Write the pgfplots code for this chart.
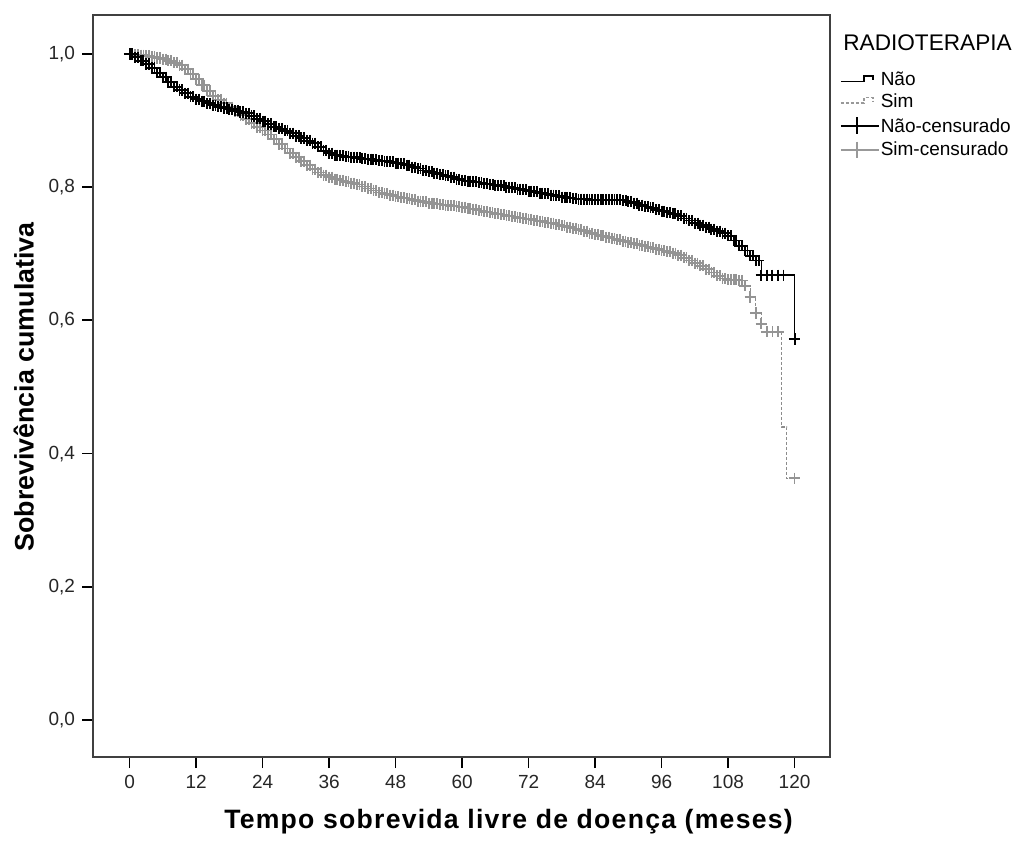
\documentclass[border=0pt]{standalone}
\usepackage{pgfplots}
\usepackage{pgfplotstable}
\pgfplotsset{compat=1.18}
\usepackage{fontspec}
\setmainfont{Liberation Sans}

\pgfplotsset{
  steplegend/.style={legend image code/.code={\draw[##1] (0pt,-0.3pt) -- (11.5pt,-0.3pt) -- (11.5pt,2.3pt) -- (16pt,2.3pt) -- (16pt,0.3pt);}},
  censlegend/.style={legend image code/.code={\draw[##1, mark=none] (0pt,0pt) -- (19pt,0pt); \draw[##1] plot coordinates {(8pt,0pt)};}},
}

% Nao (no radiotherapy): t, survival, censor-mark flag
\pgfplotstableread{
t s c
0 1.000 1
0.5 1.000 1
1 0.995 1
1.5 0.995 1
2 0.990 1
2.5 0.990 1
3 0.985 1
3.5 0.985 1
4 0.979 1
4.5 0.979 1
5 0.972 1
5.5 0.972 1
6 0.965 1
6.5 0.965 1
7 0.958 1
7.5 0.958 1
8 0.951 1
8.5 0.951 1
9 0.946 1
9.5 0.946 1
10 0.941 1
10.5 0.941 1
11 0.936 1
11.5 0.936 1
12 0.932 1
12.5 0.932 1
13 0.929 1
13.5 0.929 1
14 0.926 1
14.5 0.926 1
15 0.923 1
15.5 0.923 1
16 0.921 1
16.5 0.921 1
17 0.919 1
17.5 0.919 1
18 0.917 1
18.5 0.917 1
19 0.915 1
19.5 0.915 1
20 0.913 1
20.5 0.913 1
21 0.911 1
21.5 0.911 1
22 0.907 1
22.5 0.907 1
23 0.903 1
23.5 0.903 1
24 0.899 1
24.5 0.899 1
25 0.895 1
25.5 0.895 1
26 0.891 1
26.5 0.891 1
27 0.888 1
27.5 0.888 1
28 0.885 1
28.5 0.885 1
29 0.881 1
29.5 0.881 1
30 0.877 1
30.5 0.877 1
31 0.874 1
31.5 0.874 1
32 0.870 1
32.5 0.870 1
33 0.866 1
33.5 0.866 1
34 0.861 1
34.5 0.861 1
35 0.855 1
35.5 0.855 1
36 0.851 1
36.5 0.851 1
37 0.848 1
37.5 0.848 1
38 0.847 1
38.5 0.847 1
39 0.846 1
39.5 0.846 1
40 0.845 1
40.5 0.845 1
41 0.844 1
41.5 0.844 1
42 0.843 1
42.5 0.843 1
43 0.842 1
43.5 0.842 1
44 0.841 1
44.5 0.841 1
45 0.840 1
45.5 0.840 1
46 0.839 1
46.5 0.839 1
47 0.838 1
47.5 0.838 1
48 0.836 1
48.5 0.836 1
49 0.835 1
49.5 0.835 1
50 0.833 1
50.5 0.833 1
51 0.830 1
51.5 0.830 1
52 0.828 1
52.5 0.828 1
53 0.825 1
53.5 0.825 1
54 0.823 1
54.5 0.823 1
55 0.821 1
55.5 0.821 1
56 0.819 1
56.5 0.819 1
57 0.817 1
57.5 0.817 1
58 0.815 1
58.5 0.815 1
59 0.812 1
59.5 0.812 1
60 0.810 1
60.5 0.810 1
61 0.809 1
61.5 0.809 1
62 0.808 1
62.5 0.808 1
63 0.807 1
63.5 0.807 1
64 0.805 1
64.5 0.805 1
65 0.804 1
65.5 0.804 1
66 0.803 1
66.5 0.803 1
67 0.802 1
67.5 0.802 1
68 0.800 1
68.5 0.800 1
69 0.799 1
69.5 0.799 1
70 0.797 1
70.5 0.797 1
71 0.796 1
71.5 0.796 1
72 0.794 1
72.5 0.794 1
73 0.793 1
73.5 0.793 1
74 0.791 1
74.5 0.791 1
75 0.790 1
75.5 0.790 1
76 0.788 1
76.5 0.788 1
77 0.787 1
77.5 0.787 1
78 0.785 1
78.5 0.785 1
79 0.784 1
79.5 0.784 1
80 0.783 1
80.5 0.783 1
81 0.782 1
81.5 0.782 1
82 0.782 1
82.5 0.782 1
83 0.781 1
83.5 0.781 1
84 0.781 1
84.5 0.781 1
85 0.781 1
85.5 0.781 1
86 0.781 1
86.5 0.781 1
87 0.781 1
87.5 0.781 1
88 0.781 1
88.5 0.781 1
89 0.780 1
89.5 0.780 1
90 0.778 1
90.5 0.778 1
91 0.776 1
91.5 0.776 1
92 0.773 1
92.5 0.773 1
93 0.771 1
93.5 0.771 1
94 0.769 1
94.5 0.769 1
95 0.766 1
95.5 0.766 1
96 0.764 1
96.5 0.764 1
97 0.762 1
97.5 0.762 1
98 0.760 1
98.5 0.760 1
99 0.757 1
99.5 0.757 1
100 0.753 1
100.5 0.753 1
101 0.750 1
101.5 0.750 1
102 0.746 1
102.5 0.746 1
103 0.743 1
103.5 0.743 1
104 0.740 1
104.5 0.740 1
105 0.737 1
105.5 0.737 1
106 0.734 1
106.5 0.734 1
107 0.731 1
107.5 0.731 1
108 0.727 1
108.5 0.727 1
109 0.720 1
109.5 0.720 1
110 0.712 1
110.5 0.712 1
111 0.705 1
111.5 0.705 1
112 0.697 1
112.5 0.697 1
113 0.690 1
113.5 0.690 1
114 0.668 1
115 0.668 1
116 0.668 1
117 0.668 1
118 0.668 1
120 0.572 1
}\naotab

% Sim (radiotherapy)
\pgfplotstableread{
t s c
0 1.000 1
0.5 1.000 1
1 0.999 1
1.5 0.999 1
2 0.998 1
2.5 0.998 1
3 0.997 1
3.5 0.997 1
4 0.996 1
4.5 0.996 1
5 0.994 1
5.5 0.994 1
6 0.992 1
6.5 0.992 1
7 0.990 1
7.5 0.990 1
8 0.987 1
8.5 0.987 1
9 0.983 1
9.5 0.983 1
10 0.977 1
10.5 0.977 1
11 0.970 1
11.5 0.970 1
12 0.962 1
12.5 0.962 1
13 0.953 1
13.5 0.953 1
14 0.945 1
14.5 0.945 1
15 0.937 1
15.5 0.937 1
16 0.931 1
16.5 0.931 1
17 0.926 1
17.5 0.926 1
18 0.920 1
18.5 0.920 1
19 0.914 1
19.5 0.914 1
20 0.908 1
20.5 0.908 1
21 0.902 1
21.5 0.902 1
22 0.896 1
22.5 0.896 1
23 0.890 1
23.5 0.890 1
24 0.885 1
24.5 0.885 1
25 0.879 1
25.5 0.879 1
26 0.872 1
26.5 0.872 1
27 0.865 1
27.5 0.865 1
28 0.858 1
28.5 0.858 1
29 0.851 1
29.5 0.851 1
30 0.845 1
30.5 0.845 1
31 0.839 1
31.5 0.839 1
32 0.833 1
32.5 0.833 1
33 0.827 1
33.5 0.827 1
34 0.822 1
34.5 0.822 1
35 0.818 1
35.5 0.818 1
36 0.815 1
36.5 0.815 1
37 0.812 1
37.5 0.812 1
38 0.810 1
38.5 0.810 1
39 0.808 1
39.5 0.808 1
40 0.806 1
40.5 0.806 1
41 0.804 1
41.5 0.804 1
42 0.801 1
42.5 0.801 1
43 0.798 1
43.5 0.798 1
44 0.795 1
44.5 0.795 1
45 0.792 1
45.5 0.792 1
46 0.790 1
46.5 0.790 1
47 0.788 1
47.5 0.788 1
48 0.786 1
48.5 0.786 1
49 0.784 1
49.5 0.784 1
50 0.783 1
50.5 0.783 1
51 0.781 1
51.5 0.781 1
52 0.779 1
52.5 0.779 1
53 0.778 1
53.5 0.778 1
54 0.776 1
54.5 0.776 1
55 0.775 1
55.5 0.775 1
56 0.774 1
56.5 0.774 1
57 0.773 1
57.5 0.773 1
58 0.772 1
58.5 0.772 1
59 0.771 1
59.5 0.771 1
60 0.770 1
60.5 0.770 1
61 0.768 1
61.5 0.768 1
62 0.767 1
62.5 0.767 1
63 0.765 1
63.5 0.765 1
64 0.763 1
64.5 0.763 1
65 0.762 1
65.5 0.762 1
66 0.760 1
66.5 0.760 1
67 0.759 1
67.5 0.759 1
68 0.757 1
68.5 0.757 1
69 0.756 1
69.5 0.756 1
70 0.754 1
70.5 0.754 1
71 0.753 1
71.5 0.753 1
72 0.752 1
72.5 0.752 1
73 0.750 1
73.5 0.750 1
74 0.749 1
74.5 0.749 1
75 0.747 1
75.5 0.747 1
76 0.746 1
76.5 0.746 1
77 0.744 1
77.5 0.744 1
78 0.742 1
78.5 0.742 1
79 0.740 1
79.5 0.740 1
80 0.738 1
80.5 0.738 1
81 0.736 1
81.5 0.736 1
82 0.734 1
82.5 0.734 1
83 0.731 1
83.5 0.731 1
84 0.729 1
84.5 0.729 1
85 0.727 1
85.5 0.727 1
86 0.725 1
86.5 0.725 1
87 0.723 1
87.5 0.723 1
88 0.721 1
88.5 0.721 1
89 0.719 1
89.5 0.719 1
90 0.717 1
90.5 0.717 1
91 0.715 1
91.5 0.715 1
92 0.713 1
92.5 0.713 1
93 0.711 1
93.5 0.711 1
94 0.709 1
94.5 0.709 1
95 0.707 1
95.5 0.707 1
96 0.705 1
96.5 0.705 1
97 0.703 1
97.5 0.703 1
98 0.701 1
98.5 0.701 1
99 0.698 1
99.5 0.698 1
100 0.694 1
100.5 0.694 1
101 0.690 1
101.5 0.690 1
102 0.686 1
102.5 0.686 1
103 0.682 1
103.5 0.682 1
104 0.677 1
104.5 0.677 1
105 0.672 1
105.5 0.672 1
106 0.667 1
106.5 0.667 1
107 0.663 1
107.5 0.663 1
108 0.661 1
108.5 0.661 1
109 0.661 1
109.5 0.661 1
110 0.660 1
110.5 0.660 1
111 0.652 1
112 0.635 1
113 0.611 1
114 0.595 1
115 0.583 1
116 0.583 1
117 0.583 1
117.7 0.440 0
118.6 0.363 0
120 0.363 1
}\simtab

\begin{document}
\begin{tikzpicture}
\begin{axis}[
  scale only axis,
  width=368.5pt, height=371pt,
  xmin=-6.6, xmax=126.4,
  ymin=-0.0556, ymax=1.0586,
  clip=false,
  xtick={0,12,...,120},
  ytick={0,0.2,0.4,0.6,0.8,1.0},
  yticklabel style={/pgf/number format/.cd, use comma, fixed, fixed zerofill, precision=1},
  /pgf/number format/assume math mode=true,
  ticklabel style={font=\fontsize{9.5}{11}\selectfont, text=black!85},
  tick align=outside,
  xtick pos=bottom, ytick pos=left,
  major tick length=5.5pt,
  tick style={black, line width=0.9pt},
  axis line style={black!75, line width=0.9pt},
  legend style={at={(1.0132,0.9264)}, anchor=north west, draw=none, fill=none,
    inner sep=0pt, row sep=0pt,
    font=\fontsize{9.5}{11}\selectfont,
    nodes={inner sep=0.5pt, text height=7.5pt, text depth=2.3pt}},
  legend cell align=left,
]
\addlegendimage{black, line width=0.75pt, steplegend}
\addlegendentry{Não}
\addlegendimage{black!40, line width=0.6pt, dash pattern=on 1.5pt off 1pt, steplegend}
\addlegendentry{Sim}
\addlegendimage{black, line width=0.8pt, mark=+, mark size=4.2pt, censlegend}
\addlegendentry[text height=9.3pt]{Não-censurado}
\addlegendimage{black!40, line width=0.8pt, mark=+, mark size=4.2pt, censlegend}
\addlegendentry[text height=8.3pt]{Sim-censurado}

% Sim curve and censor marks
\addplot[forget plot, const plot mark left, black!45, line width=0.6pt, dash pattern=on 1.5pt off 1pt] table[x=t, y=s] {\simtab};
\addplot[forget plot, only marks, mark=+, mark size=2.8pt, black!42, line width=0.9pt,
  restrict expr to domain={\thisrow{c}}{0.5:1.5}] table[x=t, y=s] {\simtab};
% Nao curve and censor marks
\addplot[forget plot, const plot mark left, black, line width=0.8pt] table[x=t, y=s] {\naotab};
\addplot[forget plot, only marks, mark=+, mark size=2.8pt, black, line width=0.95pt,
  restrict expr to domain={\thisrow{c}}{0.5:1.5}] table[x=t, y=s] {\naotab};

% labels
\node[anchor=base, font=\fontsize{13.3}{15}\selectfont\bfseries\addfontfeatures{LetterSpace=4.7}] at (rel axis cs:0.5638,-0.0957) {Tempo sobrevida livre de doença (meses)};
\node[anchor=base, rotate=90, font=\fontsize{13.4}{15}\selectfont\bfseries] at (rel axis cs:-0.0807,0.4987) {Sobrevivência cumulativa};
\node[anchor=base west, font=\fontsize{11.3}{13}\selectfont, inner sep=0pt] at (rel axis cs:1.0176,0.9515) {RADIOTERAPIA};

% page extent
\path (rel axis cs:-0.1262,-0.1105) rectangle (rel axis cs:1.2537,1.0202);
\end{axis}
\end{tikzpicture}
\end{document}
